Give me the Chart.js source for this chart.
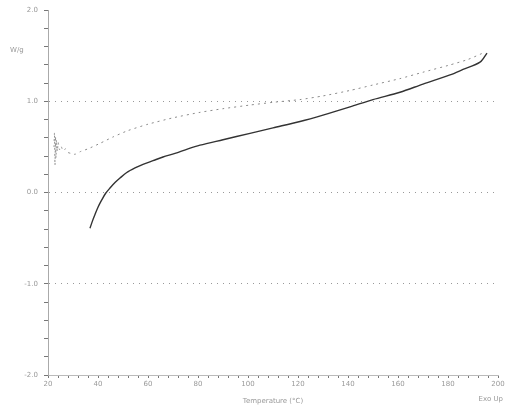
<!DOCTYPE html>
<html>
<head>
<meta charset="utf-8">
<script src="https://cdn.jsdelivr.net/npm/chart.js@4.4.1/dist/chart.umd.min.js"></script>
<style>
  html, body { margin: 0; padding: 0; background: #fff; }
  #wrap { width: 508px; height: 405px; }
</style>
</head>
<body>
<div id="wrap"><canvas id="dscChart" width="508" height="405"></canvas></div>
<script>
// heating run (upper, light dotted trace)
const heatX = [22.4, 22.6, 22.8, 23.0, 23.2, 23.4, 23.7, 24.1, 24.6, 25.2, 26, 27, 28, 29.2, 30.8, 33, 36, 40.8, 46, 52, 60, 70, 80.8, 90, 100.8, 110, 120.8, 130, 140.8, 150, 160.8, 170, 180.8, 188, 194.8];
const heatY = [0.50, 0.66, 0.30, 0.62, 0.38, 0.58, 0.45, 0.55, 0.47, 0.51, 0.46, 0.48, 0.44, 0.43, 0.42, 0.45, 0.48, 0.54, 0.61, 0.68, 0.75, 0.82, 0.88, 0.92, 0.96, 0.99, 1.02, 1.06, 1.12, 1.18, 1.25, 1.32, 1.40, 1.46, 1.54];
// cooling run (lower, dark solid trace)
const coolX = [36.8, 37.8, 38.8, 40, 41.5, 43, 44.8, 46.8, 48.8, 51.5, 54.8, 58, 62, 66, 70.8, 76, 80.8, 90, 100.8, 110, 120.8, 130, 140.8, 150, 160.8, 170, 180.8, 186, 192.8, 195.6];
const coolY = [-0.39, -0.31, -0.24, -0.16, -0.08, -0.01, 0.05, 0.11, 0.16, 0.22, 0.27, 0.31, 0.35, 0.39, 0.43, 0.48, 0.52, 0.58, 0.65, 0.71, 0.78, 0.85, 0.94, 1.02, 1.10, 1.19, 1.29, 1.35, 1.43, 1.53];
const xTickLabels = ['20', '40', '60', '80', '100', '120', '140', '160', '180', '200'];
const yTickLabels = ['2.0', '1.0', '0.0', '-1.0', '-2.0'];

const toPts = (xs, ys) => xs.map((x, i) => ({ x: x, y: ys[i] }));

// extra labels (unit + exo marker) drawn on the canvas
const sideText = {
  id: 'sideText',
  afterDraw(chart) {
    const c = chart.ctx;
    c.save();
    c.fillStyle = '#999';
    c.font = '7px "DejaVu Sans"';
    c.textBaseline = 'middle';
    c.textAlign = 'left';
    c.fillText('W/g', 10, 50);
    c.textAlign = 'right';
    c.fillText('Exo Up', 503, 399);
    c.restore();
  }
};

const ctx = document.getElementById('dscChart').getContext('2d');
const dscChart = new Chart(ctx, {
  type: 'scatter',
  data: {
    datasets: [{
      label: 'Heating',
      data: toPts(heatX, heatY),
      showLine: true,
      borderColor: '#8a8a8a',
      borderWidth: 1,
      borderDash: [2, 4],
      pointRadius: 0,
      tension: 0.2
    }, {
      label: 'Cooling',
      data: toPts(coolX, coolY),
      showLine: true,
      borderColor: '#333',
      borderWidth: 1.4,
      pointRadius: 0,
      tension: 0.3
    }]
  },
  options: {
    responsive: false,
    animation: false,
    layout: { padding: { top: 10, right: 10, left: 0, bottom: 0 } },
    plugins: { legend: { display: false }, tooltip: { enabled: false } },
    scales: {
      x: {
        type: 'linear',
        min: 20,
        max: 200,
        afterBuildTicks(scale) {
          const t = [];
          for (let v = 20; v <= 200; v += 4) t.push({ value: v });
          scale.ticks = t;
        },
        afterFit(scale) { scale.height = 30; },
        ticks: {
          autoSkip: false,
          maxRotation: 0,
          padding: 2,
          color: '#999',
          font: { size: 7, family: 'DejaVu Sans' },
          callback(v) { return (v - 20) % 20 === 0 ? xTickLabels[(v - 20) / 20] : ''; }
        },
        border: { color: '#bbb', width: 1 },
        grid: {
          drawOnChartArea: false,
          tickLength: 3,
          tickColor: '#777'
        },
        title: {
          display: true,
          text: 'Temperature (°C)',
          color: '#999',
          font: { size: 7, family: 'DejaVu Sans' },
          padding: { top: 0, bottom: 0 }
        }
      },
      y: {
        type: 'linear',
        min: -2,
        max: 2,
        afterBuildTicks(scale) {
          const t = [];
          for (let v = -2; v <= 2.0001; v += 0.2) t.push({ value: Math.round(v * 10) / 10 });
          scale.ticks = t;
        },
        afterFit(scale) { scale.width = 48; },
        ticks: {
          autoSkip: false,
          padding: 6,
          color: '#999',
          font: { size: 7, family: 'DejaVu Sans' },
          callback(v) {
            const r = Math.round(v * 10);
            return r % 10 === 0 ? yTickLabels[(20 - r) / 10] : '';
          }
        },
        border: { color: '#aaa', width: 1, dash: [1, 5] },
        grid: {
          tickLength: 4,
          tickColor: '#777',
          tickBorderDash: [],
          color(c) {
            const r = Math.round(c.tick.value * 10);
            return (r % 10 === 0 && r !== 20 && r !== -20) ? '#999' : 'rgba(0,0,0,0)';
          }
        }
      }
    }
  },
  plugins: [sideText]
});
</script>
</body>
</html>
